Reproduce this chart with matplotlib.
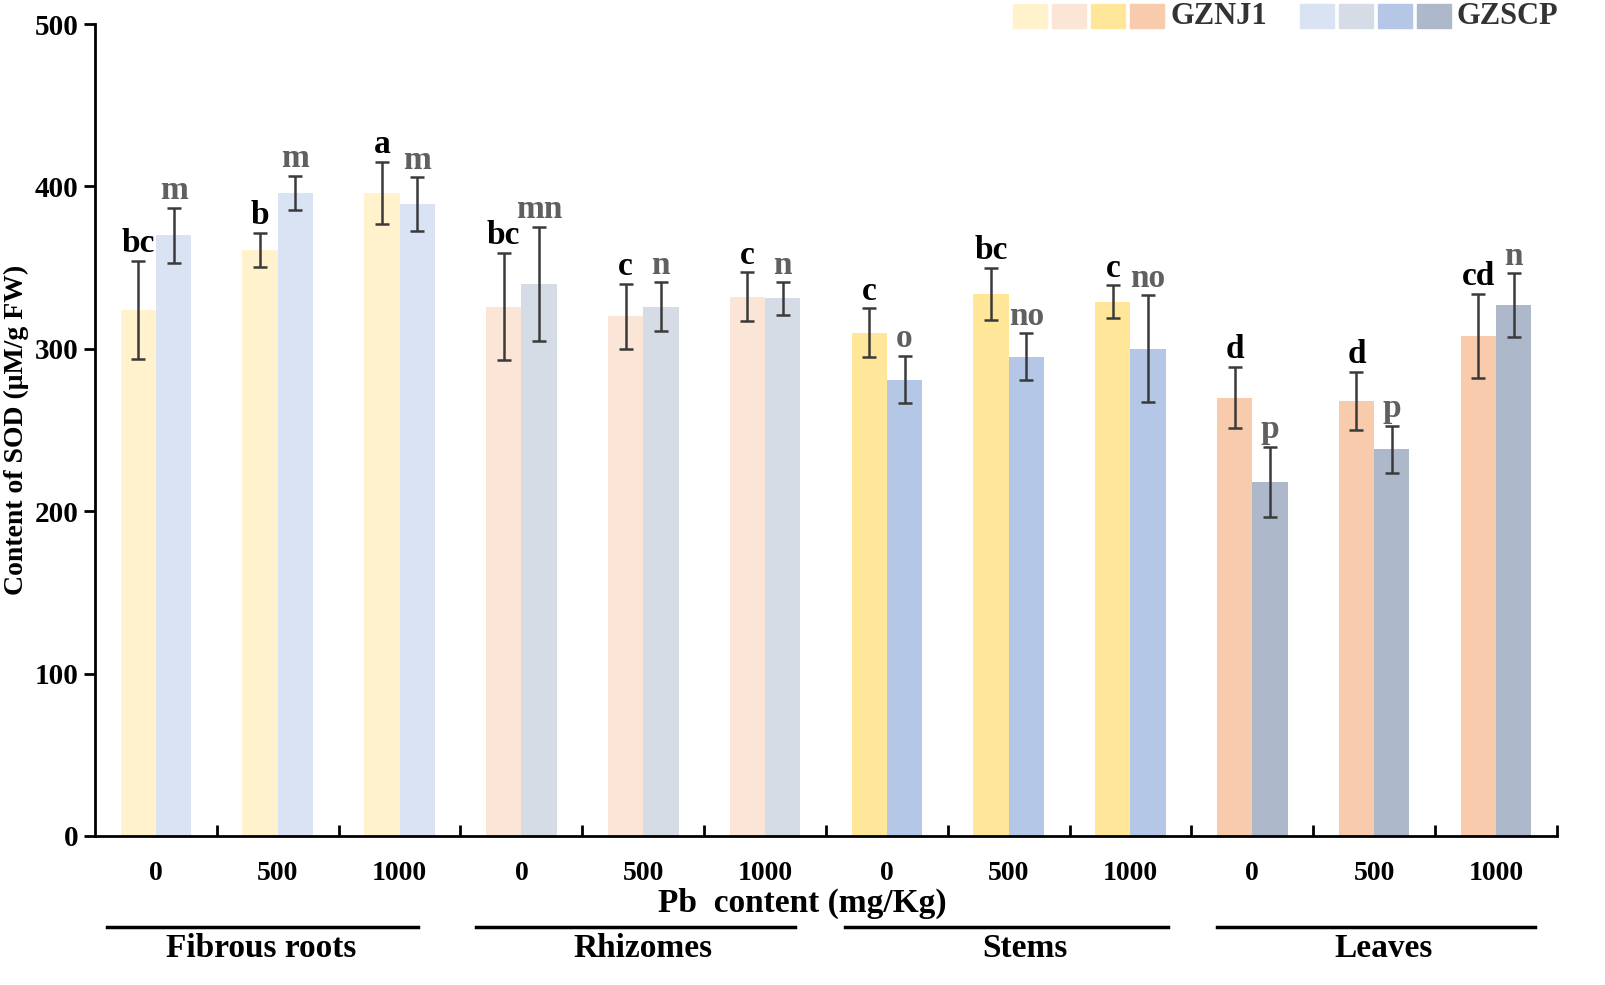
import numpy as np
import matplotlib
matplotlib.use("Agg")
import matplotlib.pyplot as plt
from matplotlib.patches import Rectangle
import matplotlib.transforms as mtransforms

plt.rcParams['font.family'] = ['Liberation Serif', 'DejaVu Serif']
plt.rcParams['font.weight'] = 'bold'

# data
tissues = ['Fibrous roots', 'Rhizomes', 'Stems', 'Leaves']
pb_levels = ['0', '500', '1000']

gznj1_mean = [324, 361, 396, 326, 320, 332, 310, 334, 329, 270, 268, 308]
gznj1_err = [30, 10.5, 19, 33, 20, 15, 15, 16, 10, 19, 18, 26]
gznj1_sig = ['bc', 'b', 'a', 'bc', 'c', 'c', 'c', 'bc', 'c', 'd', 'd', 'cd']

gzscp_mean = [370, 396, 389, 340, 326, 331, 281, 295, 300, 218, 238, 327]
gzscp_err = [17, 10.5, 16.5, 35, 15, 10, 14.5, 14.5, 33, 21.5, 14.5, 19.5]
gzscp_sig = ['m', 'm', 'm', 'mn', 'n', 'n', 'o', 'no', 'no', 'p', 'p', 'n']

gznj1_colors = ['#FFF2CC', '#FBE5D6', '#FFE699', '#F8CBAD']
gzscp_colors = ['#DAE3F3', '#D6DCE5', '#B4C7E7', '#ADB9CA']

fig = plt.figure(figsize=(16.05, 9.85), dpi=100)
ax = fig.add_axes([0.0592, 0.1513, 0.9108, 0.8243])

x = np.arange(len(gznj1_mean))
w = 0.29
c1 = [gznj1_colors[i // 3] for i in x]
c2 = [gzscp_colors[i // 3] for i in x]

ax.bar(x - w / 2, gznj1_mean, w, color=c1, zorder=2)
ax.bar(x + w / 2, gzscp_mean, w, color=c2, zorder=2)
ax.errorbar(x - w / 2, gznj1_mean, yerr=gznj1_err, fmt='none', ecolor='#3a3a3a',
            elinewidth=1.8, capsize=5, capthick=1.8, zorder=3)
ax.errorbar(x + w / 2, gzscp_mean, yerr=gzscp_err, fmt='none', ecolor='#3a3a3a',
            elinewidth=1.8, capsize=5, capthick=1.8, zorder=3)

for i in x:
    ax.text(i - w / 2, gznj1_mean[i] + gznj1_err[i] + 1.0, gznj1_sig[i],
            ha='center', va='bottom', fontsize=24, fontweight='bold', color='black')
    ax.text(i + w / 2, gzscp_mean[i] + gzscp_err[i] + 1.0, gzscp_sig[i],
            ha='center', va='bottom', fontsize=24, fontweight='bold', color='#606060')

ax.set_xlim(-0.5, 11.5)
ax.set_ylim(0, 500)
ax.spines['top'].set_visible(False)
ax.spines['right'].set_visible(False)
for s in ['left', 'bottom']:
    ax.spines[s].set_linewidth(2)

ax.set_yticks(range(0, 501, 100))
ax.tick_params(axis='y', direction='out', length=8, width=2, labelsize=21, pad=4)
ax.set_xticks(np.arange(0.5, 11.6, 1))
ax.set_xticklabels([])
ax.tick_params(axis='x', which='major', direction='in', length=8, width=2)
ax.set_xticks(x, minor=True)
ax.set_xticklabels(pb_levels * 4, minor=True)
ax.tick_params(axis='x', which='minor', length=0, labelsize=20, pad=18)
for lab in ax.get_xticklabels(minor=True) + ax.get_yticklabels():
    lab.set_fontweight('bold')

ax.set_ylabel('Content of SOD (μM/g FW)', fontsize=20, fontweight='bold')
ax.yaxis.set_label_coords(-0.045, 0.5)
fig.text(0.500, 0.083, 'Pb  content (mg/Kg)', ha='center', va='center',
         fontsize=24, fontweight='bold')

# tissue group lines and labels
trans = mtransforms.blended_transform_factory(ax.transData, ax.transAxes)
line_spans = [(-0.40, 2.15), (2.63, 5.25), (5.66, 8.31), (8.71, 11.32)]
label_pos = [0.86, 4.0, 7.13, 10.08]
for (a, b), lx, name in zip(line_spans, label_pos, tissues):
    ax.plot([a, b], [-0.112, -0.112], color='black', lw=2.5, transform=trans, clip_on=False)
    ax.text(lx, -0.138, name, ha='center', va='center', fontsize=24,
            fontweight='bold', transform=trans)

# legend swatches
fig_w, fig_h = fig.get_size_inches() * fig.dpi
def swatches(x0, colors, label):
    for k, col in enumerate(colors):
        fig.patches.append(Rectangle(((x0 + k * 39) / fig_w, 1 - 28 / fig_h), 34 / fig_w, 24 / fig_h,
                                     color=col, transform=fig.transFigure, figure=fig))
    fig.text((x0 + 4 * 39 + 1) / fig_w, 1 - 17 / fig_h, label, ha='left', va='center',
             fontsize=22, fontweight='bold', color='#333333')

swatches(1013, gznj1_colors, 'GZNJ1')
swatches(1300, gzscp_colors, 'GZSCP')

fig.savefig('out.png', dpi=100)
